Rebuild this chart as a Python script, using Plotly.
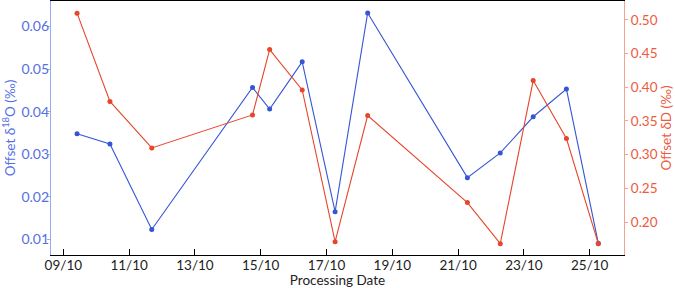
import plotly.graph_objects as go

dates = ["2023-10-09 10:00", "2023-10-10 10:00", "2023-10-11 16:30", "2023-10-14 18:00",
         "2023-10-15 06:30", "2023-10-16 06:15", "2023-10-17 06:15", "2023-10-18 06:00",
         "2023-10-21 06:45", "2023-10-22 06:45", "2023-10-23 06:45", "2023-10-24 07:00",
         "2023-10-25 06:15"]
offset_d18o = [0.0348, 0.0324, 0.0123, 0.0457, 0.0406, 0.0517, 0.0165, 0.0632,
               0.0245, 0.0303, 0.0388, 0.0453, 0.0091]
offset_dD = [0.510, 0.379, 0.310, 0.359, 0.456, 0.396, 0.171, 0.358,
             0.229, 0.168, 0.410, 0.324, 0.168]

BLUE = "#3556D4"
BLUE_TXT = "#5570E2"
BLUE_AX = "#9AAAF0"
RED = "#E6462B"
RED_TXT = "#EC5A40"
RED_AX = "#F4A294"
FONT = "Lato"
FS = 13.5

fig = go.Figure()
fig.add_trace(go.Scatter(x=dates, y=offset_d18o, mode="lines+markers",
                         line=dict(color=BLUE, width=1.1), marker=dict(color=BLUE, size=5),
                         yaxis="y", showlegend=False))
fig.add_trace(go.Scatter(x=dates, y=offset_dD, mode="lines+markers",
                         line=dict(color=RED, width=1.1), marker=dict(color=RED, size=5),
                         yaxis="y2", showlegend=False))

fig.update_layout(
    width=675, height=288,
    margin=dict(l=51, r=51, t=1, b=33),
    plot_bgcolor="white", paper_bgcolor="white",
    font=dict(family=FONT, size=FS, color="#222222"),
    xaxis=dict(
        type="date", range=["2023-10-08 15:00", "2023-10-26 01:00"],
        tick0="2023-10-09", dtick=2 * 86400000, tickformat="%d/%m",
        showgrid=False, zeroline=False, showline=True, linecolor="black", linewidth=1.3,
        mirror=True, ticks="inside", ticklen=6, tickcolor="black", automargin=False,
        ticklabelstandoff=-2,
        tickfont=dict(size=FS, color="#222222"),
        title=dict(text="Processing Date", font=dict(size=FS, color="#222222"), standoff=6),
    ),
    yaxis=dict(
        range=[0.00632, 0.0660], tickvals=[0.01, 0.02, 0.03, 0.04, 0.05, 0.06],
        tickformat=".2f", showgrid=False, zeroline=False, automargin=False,
        showline=True, linecolor=BLUE_AX, linewidth=1.3,
        ticks="outside", ticklen=3, tickcolor=BLUE_AX, ticklabelstandoff=-5,
        tickfont=dict(size=14, color=BLUE_TXT),
        title=dict(text="Offset δ<sup>18</sup>O (‰)", font=dict(size=FS, color=BLUE_TXT), standoff=6),
    ),
    yaxis2=dict(
        range=[0.1512, 0.528], tickvals=[0.20, 0.25, 0.30, 0.35, 0.40, 0.45, 0.50],
        tickformat=".2f", overlaying="y", side="right", showgrid=False, zeroline=False,
        automargin=False,
        showline=True, linecolor=RED_AX, linewidth=1.3,
        ticks="outside", ticklen=3, tickcolor=RED_AX,
        tickfont=dict(size=FS, color=RED_TXT),
        title=dict(text="Offset δD (‰)", font=dict(size=FS, color=RED_TXT), standoff=4),
    ),
)

fig.write_html("out.html", config={"displayModeBar": False},
               post_script="document.body.style.margin='0';document.body.style.overflow='hidden';")
